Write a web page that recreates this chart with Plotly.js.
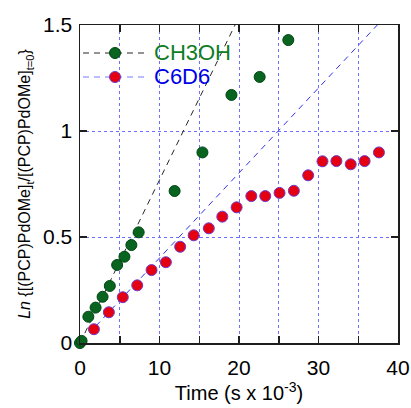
<!DOCTYPE html>
<html><head><meta charset="utf-8">
<script src="https://cdn.plot.ly/plotly-3.0.1.min.js"></script>
<style>html,body{margin:0;padding:0;background:#fff}#chart{width:411px;height:408px}</style>
</head><body><div id="chart"></div>
<script>
// CH3OH series
const ch3ohTime = [0, 0.2, 1.05, 1.96, 2.84, 3.75, 4.67, 5.59, 6.46, 7.38, 11.9, 15.4, 19.05, 22.6, 26.2];
const ch3ohLn   = [0, 0.01, 0.124, 0.167, 0.218, 0.269, 0.368, 0.407, 0.462, 0.522, 0.717, 0.899, 1.170, 1.255, 1.429];
// C6D6 series
const c6d6Time = [1.75, 3.63, 5.38, 7.2, 9.0, 10.8, 12.6, 14.3, 16.2, 17.9, 19.7, 21.55, 23.3, 25.1, 26.9, 28.7, 30.5, 32.25, 34.05, 35.8, 37.6];
const c6d6Ln   = [0.065, 0.145, 0.216, 0.272, 0.344, 0.381, 0.454, 0.508, 0.541, 0.596, 0.640, 0.693, 0.693, 0.708, 0.718, 0.791, 0.857, 0.858, 0.843, 0.858, 0.899];
// linear fits
const fitCH3OHTime = [0, 19.5];
const fitCH3OHLn   = [0, 1.5];
const fitC6D6Time  = [2, 37.4];
const fitC6D6Ln    = [0.08, 1.5];
// ticks
const xTickVals = [0, 10, 20, 30, 40];
const xTickText = ['0', '10', '20', '30', '40'];
const xMinorStep = 5;
const yTickVals = [0, 0.5, 1, 1.5];
const yTickText = ['0', '0.5', '1', '1.5'];
const seriesNames = ['CH3OH', 'C6D6'];

const FONT = 'Liberation Sans, Arial, sans-serif';
const green = 'rgb(8,100,30)';
const red = 'rgb(228,0,18)';

const traces = [
  {x: fitCH3OHTime, y: fitCH3OHLn, mode: 'lines', line: {color: 'rgb(40,40,40)', width: 1, dash: '6px,5px'}, hoverinfo: 'skip'},
  {x: fitC6D6Time, y: fitC6D6Ln, mode: 'lines', line: {color: 'rgb(50,50,235)', width: 1, dash: '6px,5px'}, hoverinfo: 'skip'},
  {x: ch3ohTime, y: ch3ohLn, mode: 'markers', name: seriesNames[0], cliponaxis: false,
   marker: {color: green, size: 11, line: {color: 'rgb(0,70,20)', width: 1}}},
  {x: c6d6Time, y: c6d6Ln, mode: 'markers', name: seriesNames[1], cliponaxis: false,
   marker: {color: red, size: 11, line: {color: 'rgb(110,60,200)', width: 1}}}
];

const px2x = p => (p - 80) / 318;
const px2y = p => (343 - p) / 318;
const r = 5.5 / 318;
const rows = [53, 77];
const shapes = [];
const annotations = [];
const legCols = [[ 'rgb(40,40,40)', green, 'rgb(0,70,20)', 'rgb(15,125,35)' ], ['rgb(120,120,255)', red, 'rgb(110,60,200)', 'rgb(0,0,230)']];
rows.forEach((py, i) => {
  const c = legCols[i];
  shapes.push({type: 'line', xref: 'paper', yref: 'paper', x0: px2x(83), x1: px2x(147), y0: px2y(py), y1: px2y(py),
    line: {color: c[0], width: 1, dash: '6px,5px'}});
  shapes.push({type: 'circle', xref: 'paper', yref: 'paper', x0: px2x(115) - r, x1: px2x(115) + r, y0: px2y(py) - r, y1: px2y(py) + r,
    fillcolor: c[1], line: {color: c[2], width: 1}, layer: 'above'});
  annotations.push({xref: 'paper', yref: 'paper', x: px2x(152), y: px2y(py), xanchor: 'left', yanchor: 'middle',
    text: seriesNames[i], showarrow: false, font: {family: FONT, size: 22, color: c[3]}});
});

const axisCommon = {
  showline: true, linecolor: 'rgb(30,30,30)', linewidth: 1.5, mirror: 'ticks',
  ticks: 'inside', ticklen: 7, tickwidth: 1.5, tickcolor: 'rgb(30,30,30)',
  showgrid: true, gridcolor: 'rgb(110,110,255)', gridwidth: 1, griddash: 'dot',
  zeroline: false, tickmode: 'array',
  tickfont: {family: FONT, size: 21, color: '#000'}
};

const layout = {
  width: 411, height: 408,
  margin: {l: 80, r: 13, t: 25, b: 65},
  paper_bgcolor: '#fff', plot_bgcolor: '#fff',
  showlegend: false,
  font: {family: FONT, color: '#000'},
  xaxis: Object.assign({}, axisCommon, {
    range: [0, 40], tickvals: xTickVals, ticktext: xTickText, ticklabelstandoff: 5,
    minor: {dtick: xMinorStep, tick0: 0, ticks: 'inside', ticklen: 7, tickwidth: 1.5, tickcolor: 'rgb(30,30,30)',
            showgrid: true, gridcolor: 'rgb(110,110,255)', gridwidth: 1, griddash: 'dot'},
    title: {text: 'Time (s x 10<sup>-3</sup>)', font: {family: FONT, size: 20, color: '#000'}, standoff: 6}
  }),
  yaxis: Object.assign({}, axisCommon, {
    range: [0, 1.5], tickvals: yTickVals, ticktext: yTickText, ticklabelstandoff: 2,
    title: {text: '<i>Ln</i> {[(PCP)PdOMe]<sub>t</sub>/[(PCP)PdOMe]<sub>t=0</sub>}', font: {family: FONT, size: 16, color: '#000'}, standoff: 8}
  }),
  shapes: shapes,
  annotations: annotations
};

Plotly.newPlot('chart', traces, layout, {displayModeBar: false, staticPlot: true});
</script>
</body></html>
